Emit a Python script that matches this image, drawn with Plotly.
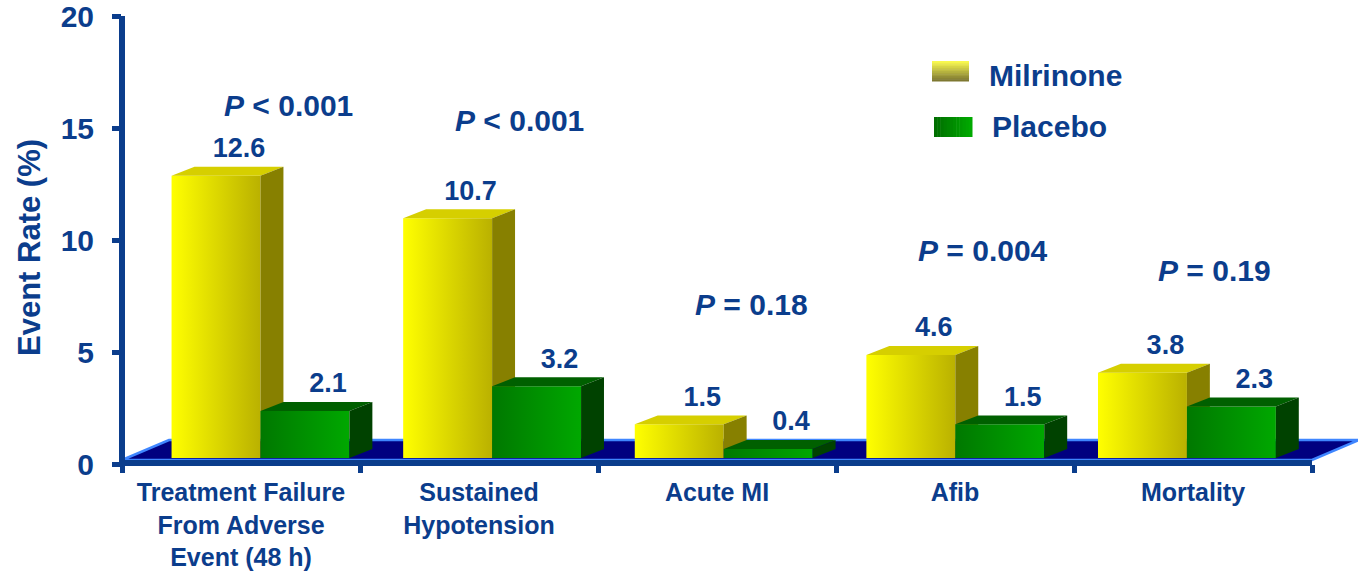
import plotly.graph_objects as go

# ---- data ----
categories = [
    "Treatment Failure<br>From Adverse<br>Event (48 h)",
    "Sustained<br>Hypotension",
    "Acute MI",
    "Afib",
    "Mortality",
]
milrinone = [12.6, 10.7, 1.5, 4.6, 3.8]
placebo = [2.1, 3.2, 0.4, 1.5, 2.3]
p_labels = ["<i>P</i> < 0.001", "<i>P</i> < 0.001", "<i>P</i> = 0.18",
            "<i>P</i> = 0.004", "<i>P</i> = 0.19"]
y_ticks = [0, 5, 10, 15, 20]

# ---- layout / style ----
W, H = 1358, 571
ML, MR, MT, MB = 122, 46, 16, 107
PW, PH = W - ML - MR, H - MT - MB
NAVY = "#0b3d8c"
FONT = "Liberation Sans, Arial, sans-serif"

# P-value label heights (in y units) above each group
p_label_y = [16.0, 15.35, 7.1, 9.55, 8.66]

# oblique projection of the 3D bars
BAR_W = 0.384      # width of one bar on the bar axis
DEPTH_X = 0.099    # horizontal shift of the back face (bar axis units)
DEPTH_Y = 0.40     # vertical shift of the back face (y units)
BASE = 0.27        # bars stand slightly back on the floor
LABEL_GAP = 0.13   # extra lift of the value labels (y units)
X2_RANGE = [-0.598, 4.540]

series = [
    dict(name="Milrinone", values=milrinone,
         front=[[0, "#ffff00"], [1, "#bab100"]], top="#d6cf00", side="#878000"),
    dict(name="Placebo", values=placebo,
         front=[[0, "#007800"], [1, "#00a800"]], top="#006000", side="#004200"),
]


def px_x(px):
    return (px - ML) / PW


def px_y(py):
    return (H - MB - py) / PH


fig = go.Figure()


def face(xs, ys, **kw):
    fig.add_trace(go.Scatter(
        x=xs, y=ys, xaxis="x2", yaxis="y", fill="toself", mode="none",
        hoverinfo="skip", showlegend=False, **kw))


label_x, label_y, label_t = [], [], []
for i in range(len(categories)):
    for k, s in enumerate(series):
        v = s["values"][i]
        x0 = i - BAR_W + k * BAR_W
        x1 = x0 + BAR_W
        t = BASE + v
        # front face
        face([x0, x1, x1, x0], [BASE, BASE, t, t],
             fillgradient=dict(type="horizontal", colorscale=s["front"]))
        # top face
        face([x0, x1, x1 + DEPTH_X, x0 + DEPTH_X], [t, t, t + DEPTH_Y, t + DEPTH_Y],
             fillcolor=s["top"])
        # side face
        face([x1, x1 + DEPTH_X, x1 + DEPTH_X, x1],
             [BASE, BASE + DEPTH_Y, t + DEPTH_Y, t], fillcolor=s["side"])
        label_x.append((x0 + x1) / 2 + DEPTH_X)
        label_y.append(t + DEPTH_Y + LABEL_GAP)
        label_t.append(f"{v:.1f}")

fig.add_trace(go.Scatter(
    x=label_x, y=label_y, text=label_t, mode="text", textposition="top center",
    xaxis="x2", yaxis="y", hoverinfo="skip", showlegend=False, cliponaxis=False,
    textfont=dict(family=FONT, size=27, color=NAVY, weight="bold")))

# category axis carries the labels and the boundary ticks
fig.add_trace(go.Scatter(x=categories, y=[None] * len(categories),
                         mode="markers", showlegend=False, hoverinfo="skip"))

shapes = []
# floor plate
fx0, fy0 = px_x(ML), px_y(460)
fdx, fy1 = 47 / PW, px_y(440)
shapes.append(dict(
    type="path", xref="paper", yref="paper", layer="below",
    path=f"M{fx0},{fy0} L{fx0 + fdx},{fy1} L{1 + fdx},{fy1} L1,{fy0} Z",
    fillcolor="#000080", line=dict(color="#3f86ff", width=2.5)))
# axis lines
shapes.append(dict(type="line", xref="paper", yref="paper", x0=0, x1=1,
                   y0=px_y(463), y1=px_y(463), line=dict(color=NAVY, width=6)))
shapes.append(dict(type="line", xref="paper", yref="paper", x0=0, x1=0,
                   y0=px_y(466), y1=1, line=dict(color=NAVY, width=6)))


# legend swatches
def swatch(px0, py0, px1, py1, c_from, c_to, vertical, n=12):
    def mix(a, b, f):
        a = [int(a[j:j + 2], 16) for j in (1, 3, 5)]
        b = [int(b[j:j + 2], 16) for j in (1, 3, 5)]
        return "rgb(%d,%d,%d)" % tuple(round(a[j] + (b[j] - a[j]) * f) for j in range(3))
    for j in range(n):
        f0, f1 = j / n, (j + 1) / n
        if vertical:
            r = (px0, py0 + (py1 - py0) * f0, px1, py0 + (py1 - py0) * f1 + 0.5)
        else:
            r = (px0 + (px1 - px0) * f0, py0, px0 + (px1 - px0) * f1 + 0.5, py1)
        shapes.append(dict(type="rect", xref="paper", yref="paper", layer="above",
                           x0=px_x(r[0]), x1=px_x(r[2]), y0=px_y(r[3]), y1=px_y(r[1]),
                           fillcolor=mix(c_from, c_to, (j + 0.5) / n), line=dict(width=0)))


swatch(932, 61, 969, 81, "#ffff50", "#787230", True)
swatch(934, 117, 972, 137, "#006c00", "#00ac00", False)

annotations = []
for name, px0, py in [("Milrinone", 987, 75), ("Placebo", 990, 127)]:
    annotations.append(dict(
        text=name, xref="paper", yref="paper", x=px_x(px0), y=px_y(py),
        xanchor="left", yanchor="middle", showarrow=False,
        font=dict(family=FONT, size=30, color=NAVY, weight="bold")))

for i, txt in enumerate(p_labels):
    annotations.append(dict(
        text=txt, xref="x2", yref="y", x=i + 0.12, y=p_label_y[i],
        xanchor="center", yanchor="middle", showarrow=False,
        font=dict(family=FONT, size=30, color=NAVY, weight="bold")))

annotations.append(dict(
    text="Event Rate (%)", xref="paper", yref="paper", x=px_x(30), y=px_y(248),
    xanchor="center", yanchor="middle", textangle=-90, showarrow=False,
    font=dict(family=FONT, size=31, color=NAVY, weight="bold")))

fig.update_layout(
    width=W, height=H, margin=dict(l=ML, r=MR, t=MT, b=MB, autoexpand=False),
    paper_bgcolor="white", plot_bgcolor="white", showlegend=False,
    shapes=shapes, annotations=annotations,
    xaxis=dict(type="category", categoryorder="array", categoryarray=categories,
               range=[-0.5, 4.5], tickson="boundaries", ticks="outside",
               ticklen=8, tickwidth=5, tickcolor=NAVY, showline=False,
               showgrid=False, zeroline=False, ticklabelstandoff=11,
               automargin=False, tickangle=0, ticklabeloverflow="allow",
               tickfont=dict(family=FONT, size=25, color=NAVY, weight="bold")),
    xaxis2=dict(overlaying="x", range=X2_RANGE, visible=False),
    yaxis=dict(range=[0, 20], tickvals=y_ticks, ticks="outside", ticklen=9,
               tickwidth=5, tickcolor=NAVY, showline=False, showgrid=False,
               zeroline=False, ticklabelstandoff=12, automargin=False,
               ticklabeloverflow="allow",
               tickfont=dict(family=FONT, size=30, color=NAVY, weight="bold")),
)

fig.write_html("out.html")
